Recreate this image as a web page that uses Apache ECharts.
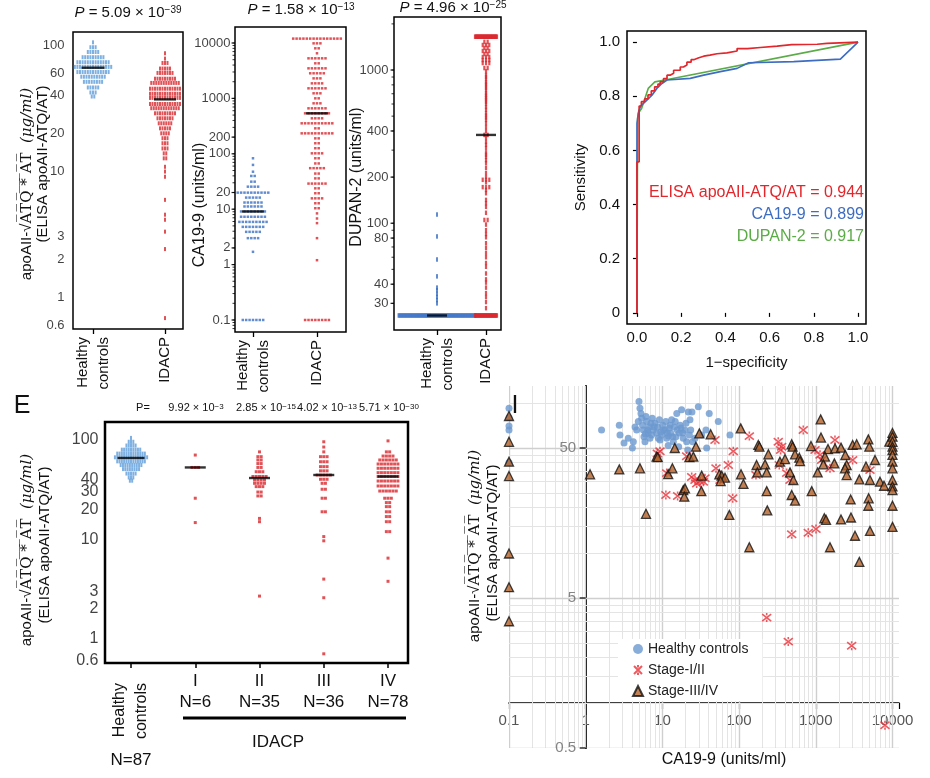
<!DOCTYPE html>
<html>
<head>
<meta charset="utf-8">
<title>apoAII-ATQ/AT, CA19-9 and DUPAN-2</title>
<script src="https://cdn.jsdelivr.net/npm/echarts@6.0.0/dist/echarts.min.js"></script>
<style>
html,body{margin:0;padding:0;background:#fff;}
#chart{width:930px;height:778px;}
</style>
</head>
<body>
<div id="chart"></div>
<script>
// ================= DATA =================
const abCategories = ['Healthy\ncontrols', 'IDACP'];
const stageCategories = ['Healthy\ncontrols', 'I', 'II', 'III', 'IV'];
const stageCounts = ['N=87', 'N=6', 'N=35', 'N=36', 'N=78'];
const topPValues = [['5.09', '\u221239'], ['1.58', '\u221213'], ['4.96', '\u221225']];
const stagePValues = [['9.92', '\u22123'], ['2.85', '\u221215'], ['4.02', '\u221213'], ['5.71', '\u221230']];

// beeswarm rows: [value, number of marks in the row]
const apoHealthyRows = [[105,1],[96,3],[88,5],[80,9],[73,13],[67,15],[61,13],[56,10],[51,8],[46,5],[42,3],[39,2]];
const apoIdacpRows = [[86,1],[78,1],[72,3],[65,5],[60,7],[54,9],[50,12],[45,13],[41,13],[38,13],[34,13],[31.5,12],[28.7,9],[26.2,7],[23.9,6],[21.8,5],[19.9,4],[18.2,3],[16.6,3],[15.1,3],[13.8,2],[12.6,2],[10.8,1],[9.9,1],[9.0,1],[5.9,1],[4.5,1],[4.1,1],[3.3,1],[2.4,1],[0.68,1]];
const apoMedians = [66, 37];
const apoTicks = [100, 60, 40, 20, 10, 3, 2, 1, 0.6];

const caHealthyRows = [[83,1],[63,1],[47.5,1],[39.8,2],[31.4,2],[25.5,4],[19.9,10],[16.2,5],[13.2,6],[11.2,6],[9.1,8],[7.3,8],[5.9,9],[4.8,7],[3.9,5],[3.0,4],[1.7,1],[0.1,7]];
const caIdacpRows = [[12000,15],[9860,3],[8020,2],[6520,1],[5290,6],[4300,2],[3490,6],[2840,5],[2300,3],[1870,4],[1520,6],[1236,3],[1003,2],[815,3],[662,6],[538,8],[437,4],[355,10],[288,2],[234,10],[190,2],[155,2],[126,2],[102,4],[83,2],[67,2],[55,5],[44,2],[36,2],[29,6],[23.8,2],[19.4,2],[15.7,4],[12.8,2],[10.4,2],[8.4,1],[6.8,1],[5.6,1],[3.0,1],[1.2,1],[0.1,8]];
const caMedians = [9.1, 538];
const caTicks = [10000, 1000, 200, 100, 20, 10, 2, 1, 0.1];

const duHealthyRows = [[114,1],[82,1],[58,1],[45,1],[38,1],[36.5,1],[34.6,1],[33,1],[31.5,1],[30,1],[25,77]];
const duIdacpRows = [[1650,30],[1524,2],[1456,3],[1393,2],[1331,3],[1272,2],[1216,3],[1162,3],[1111,3],[1030,2],[980,1],[928,1],[900,1],[870,1],[835,1],[810,1],[790,1],[764,1],[740,1],[708,1],[690,1],[670,1],[655,1],[637,1],[620,1],[600,1],[573,1],[550,1],[524,1],[505,1],[490,1],[472,1],[450,1],[425,1],[400,1],[377,2],[360,1],[339,1],[325,1],[310,1],[290,1],[280,1],[271,1],[258,1],[247,1],[230,1],[213,1],[200,1],[192,3],[185,1],[172,3],[165,1],[157,1],[142,1],[135,1],[128,1],[117,1],[105,2],[98,1],[90,1],[85,1],[81,1],[74,1],[69,1],[64,1],[60,1],[55,1],[52,1],[47,1],[43,1],[41,1],[38,1],[35,1],[33,1],[30.6,1],[27.9,1],[25,30]];
const duMedians = [25, 377];
const duTicks = [1000, 400, 200, 100, 80, 40, 30];

const stageIRows = [[70.6,1],[53,3],[26,1],[14.8,1]];
const stageIIRows = [[76,1],[68,2],[63,2],[58,2],[53,2],[48,3],[43,5],[39.6,4],[36.7,4],[34,3],[30,2],[27.4,2],[16.3,1],[15.1,1],[2.7,1]];
const stageIIIRows = [[96,1],[85,1],[76,1],[68,3],[60.5,3],[54,3],[49,3],[44.5,5],[40.3,3],[36.7,2],[32,2],[26,2],[19,2],[10.7,1],[9.7,1],[4.0,1],[2.6,1],[0.71,1]];
const stageIVRows = [[98,1],[76,2],[69,4],[63,6],[57.4,7],[52,7],[47,7],[43,7],[38.7,7],[34.5,7],[30.7,6],[26,3],[23.5,2],[21.4,2],[19,2],[17,2],[15.1,2],[12,2],[6.5,1],[3.8,1]];
const stageMedians = [66, 53, 41.5, 44.5, 43];
const stageTicks = [100, 40, 30, 20, 10, 3, 2, 1, 0.6];

// ROC curves [1-specificity, sensitivity]
const rocApo = [[0,0],[0,0.558],[0.01,0.558],[0.01,0.764],[0.02,0.764],[0.02,0.78],[0.035,0.79],[0.05,0.805],[0.065,0.82],[0.08,0.835],[0.095,0.845],[0.105,0.853],[0.12,0.865],[0.136,0.878],[0.15,0.885],[0.166,0.896],[0.196,0.908],[0.21,0.915],[0.226,0.926],[0.245,0.935],[0.257,0.942],[0.28,0.948],[0.302,0.952],[0.33,0.957],[0.362,0.96],[0.407,0.967],[0.453,0.976],[0.5,0.98],[0.558,0.985],[0.634,0.991],[0.7,0.992],[0.815,0.995],[0.86,1.0],[1.0,1.0]];
const rocCa = [[0,0],[0,0.70],[0.008,0.70],[0.008,0.745],[0.017,0.764],[0.026,0.767],[0.045,0.786],[0.068,0.804],[0.09,0.829],[0.113,0.847],[0.136,0.86],[0.241,0.866],[0.302,0.878],[0.377,0.891],[0.453,0.903],[0.505,0.924],[0.709,0.928],[0.92,0.937],[1.0,1.0]];
const rocDu = [[0,0],[0.003,0.72],[0.006,0.737],[0.021,0.755],[0.036,0.792],[0.051,0.829],[0.081,0.853],[0.127,0.86],[1.0,1.0]];
const aucLabels = ['ELISA apoAII-ATQ/AT = 0.944', 'CA19-9 = 0.899', 'DUPAN-2 = 0.917'];
const rocTicks = [0, 0.2, 0.4, 0.6, 0.8, 1.0];

// scatter I: [CA19-9, apoAII-ATQ/AT]
const scatterHealthy = [[0.1,92],[0.1,80],[0.1,70],[0.1,66],[0.1,40],
[1.61,66],[2.74,71],[2.80,61],[3.16,54],[3.59,58],[4.06,50],[4.18,55],[4.40,69],[4.62,66],[4.85,75],
[4.95,102],[5.10,92],[5.26,85],[5.37,79],[5.53,71],[5.64,66],[5.75,59.5],[5.93,55],[6.11,81],[6.23,75],
[6.42,66],[6.55,63],[6.75,69],[6.89,58],[7.10,73],[7.24,61],[7.38,79],[7.60,66],[7.83,69],[8.00,73],
[8.41,63],[8.67,69],[8.85,58],[9.12,77],[9.31,56.5],[9.79,61],[10.1,71],[10.3,66],[10.8,66],[11.1,75],
[11.4,58],[11.6,63],[11.9,52],[12.3,68],[12.6,71],[12.8,63],[13.2,77],[13.6,59.5],[13.9,55],[14.3,69],
[14.7,75],[15.0,59.5],[15.4,85],[15.6,66],[16.3,51],[16.6,63],[17.0,71],[17.5,68],[17.8,90],[18.4,63],
[18.7,58],[19.7,66],[20.3,73],[20.7,55],[21.4,48.5],[21.8,87],[22.5,61],[22.9,77],[23.4,66],[24.3,87],
[24.8,55],[26.6,58],[29.4,94],[32.5,61],[37.0,66],[37.8,50],[40.8,85],[53.5,75],[76,61],[6.0,62],[9.5,64],[12.0,60]];
const scatterStage12 = [[8.6,46],[9.3,47.5],[11.4,34],[11.1,24.3],[15.8,23.9],[20.7,44],[24.1,32],[26.6,30.6],[28,29],[30.9,30],
[34.2,29.8],[35.9,31.4],[48.5,56.5],[50,36.6],[56.4,30.6],[72.4,38.5],[82.6,23.1],[84,47.5],[136,60],[166,33],
[229,3.7],[324,55],[334,38.5],[348,48.5],[359,51],[417,34],[461,30.6],[485,13.3],[438,2.56],[687,66],
[798,13.6],[1006,14.4],[977,48.5],[1135,45],[1193,41.6],[1532,36.6],[1778,56.5],[3024,41.6],[2935,2.4],[5090,35.6],[7980,0.71]];
const scatterStage34 = [[1.14,33.4],[2.74,36],[5.1,36.6],[6.11,18.2],[8.4,43.8],[8.7,43.4],[11.9,33.5],[13.5,36.6],[14.5,50],[18.7,26.2],
[19.7,26.9],[19.3,23.7],[22.5,43.4],[0.1,81.7],[0.1,55],[0.1,40.5],[0.1,32.5],[0.1,9.9],[0.1,5.9],[0.1,3.5],
[30.3,62.6],[27.4,51],[42.6,61.7],[25.3,43.8],[32.5,32.7],[32.2,25.8],[55.3,33.4],[59.3,32.7],[65.5,31.7],[57.5,30.1],
[74.6,17.9],[105,67.6],[106,33.4],[114,28.8],[136,10.9],[178,52.4],[184,51],[241,45.4],[169,38.5],[173,34.4],
[218,38.9],[229,34.4],[229,25.8],[233,19.2],[341,40.5],[397,42.2],[485,52.9],[499,51],[536,45.4],[461,34.4],
[485,24.3],[510,30.6],[536,22.3],[610,43.1],[622,40.9],[866,51.5],[884,25.8],[1058,34.4],[1157,77.6],[1169,58.7],
[1292,17],[1359,16.6],[1443,49.2],[1318,43.8],[1254,38.9],[1745,39.5],[1780,49.7],[2131,50.3],[1532,10.9],[2131,16.7],
[2427,44.9],[2527,38.5],[2403,36.6],[2527,33],[2849,22.7],[2877,17.2],[3025,52.4],[3411,52.9],[3245,13],[3695,30.9],
[3695,8.7],[4513,37.6],[4841,57.1],[4988,51],[5089,30.6],[4890,23.1],[4841,20.6],[5089,14],[5916,41.6],[6872,29.8],
[7752,28],[9096,55.1],
[10000,63],[10000,59.5],[10000,55],[10000,51],[10000,48.5],[10000,45],[10000,40.5],[10000,36.6],[10000,30.6],[10000,27.7],[10000,26.2],[10000,20.6],[10000,14.9]];
const scatterYTicks = [0.5, 5, 50];

// ================= LAYOUT =================
const FONT = 'Liberation Sans';
const BLUE_L = '#5e9cd9', BLUE_D = '#3a6fc4', RED = '#d9272d';
const ROC_RED = '#e2262b', ROC_BLUE = '#3d6dc2', ROC_GREEN = '#5bab47';
const A = {left:73, top:32, width:110, height:297, xmin:-0.278, xmax:1.25, ymin:0.557, ymax:126.8, border:1.5};
const B = {left:235, top:27, width:111, height:305, xmin:-0.281, xmax:1.453, ymin:0.0607, ymax:19450, border:1.5};
const C = {left:394, top:17, width:107, height:313, xmin:-0.878, xmax:1.306, ymin:20.1, ymax:2218, border:1.5};
const D = {left:627, top:31, width:239, height:293, xmin:-0.045, xmax:1.036, ymin:-0.041, ymax:1.041, border:1.5};
const E = {left:105, top:422, width:303, height:241, xmin:-0.405, xmax:4.311, ymin:0.574, ymax:151.7, border:2.5};
const I = {left:509, top:386, width:390, height:362, xmin:0.1, xmax:12160, ymin:0.5, ymax:129.5, border:0};

function swarm(rows, xc, spacing, maxW) {
  const out = [];
  rows.forEach(function (r) {
    const n = r[1];
    const sp = n > 1 ? Math.min(spacing, maxW / (n - 1)) : 0;
    for (let i = 0; i < n; i++) {
      out.push({ value: [xc, r[0]], symbolOffset: [(i - (n - 1) / 2) * sp, 0] });
    }
  });
  return out;
}
function swarmSeries(xi, yi, rows, xc, o) {
  return { type: 'scatter', xAxisIndex: xi, yAxisIndex: yi, symbol: 'rect', symbolSize: o.size,
    itemStyle: { color: o.color }, silent: true, clip: false, z: 3,
    data: swarm(rows, xc, o.spacing, o.maxW) };
}
function medianSeries(xi, yi, pts) {
  return { type: 'scatter', xAxisIndex: xi, yAxisIndex: yi, symbol: 'rect', silent: true, clip: false, z: 6,
    itemStyle: { color: '#000' },
    data: pts.map(function (p) { return { value: [p[0], p[1]], symbolSize: [p[2], 2.4] }; }) };
}
function labelSeries(xi, yi, x, vals, dist, fs, color) {
  return { type: 'scatter', xAxisIndex: xi, yAxisIndex: yi, symbolSize: 1, silent: true, clip: false,
    itemStyle: { color: 'rgba(0,0,0,0)' },
    label: { show: true, position: 'left', distance: dist, fontSize: fs, fontFamily: FONT, color: color || '#111',
      formatter: function (p) { return String(p.value[1]); } },
    data: vals.map(function (v) { return [x, v]; }) };
}
function tickSeries(xi, yi, x, vals, len, w) {
  return { type: 'scatter', xAxisIndex: xi, yAxisIndex: yi, symbol: 'rect', symbolSize: [len, w || 1],
    symbolOffset: [-len / 2, 0], silent: true, clip: false, itemStyle: { color: '#000' },
    data: vals.map(function (v) { return [x, v]; }) };
}
function logMinor(lo, hi) {
  const out = [];
  for (let k = -2; k <= 5; k++) for (let m = 1; m <= 9; m++) {
    const v = Number((m * Math.pow(10, k)).toPrecision(3));
    if (v >= lo && v <= hi) out.push(v);
  }
  return out;
}
function gridOf(g) {
  return { left: g.left, top: g.top, width: g.width, height: g.height, show: g.border > 0,
    borderColor: '#000', borderWidth: g.border, backgroundColor: 'transparent', outerBoundsMode: 'none' };
}
function logY(idx, g) {
  return { type: 'log', logBase: 10, gridIndex: idx, min: g.ymin, max: g.ymax,
    axisLine: { show: false }, axisTick: { show: false }, axisLabel: { show: false }, splitLine: { show: false } };
}
function catX(idx, g, labelVals, fmt, rot, margin) {
  return { type: 'value', gridIndex: idx, position: 'bottom', min: g.xmin, max: g.xmax,
    splitLine: { show: false }, axisLine: { show: false },
    axisTick: { show: true, customValues: [0, 1], length: 5, lineStyle: { color: '#000', width: 1.3 } },
    axisLabel: { show: true, customValues: labelVals, rotate: rot, margin: margin, fontSize: 15, fontFamily: FONT,
      color: '#111', lineHeight: 21, formatter: fmt } };
}

// ================= AXES =================
const xAxes = [
  catX(0, A, [0, 1], function (v) { return abCategories[Math.round(v)]; }, 90, 8),
  catX(1, B, [0, 1], function (v) { return abCategories[Math.round(v)]; }, 90, 8),
  catX(2, C, [0, 1], function (v) { return abCategories[Math.round(v)]; }, 90, 8),
  { type: 'value', gridIndex: 3, position: 'bottom', min: D.xmin, max: D.xmax, splitLine: { show: false }, axisLine: { show: false },
    axisTick: { show: true, customValues: rocTicks, length: 4, lineStyle: { color: '#000', width: 1.2 } },
    axisLabel: { customValues: rocTicks, margin: 6, fontSize: 15, fontFamily: FONT, color: '#111',
      formatter: function (v) { return v.toFixed(1); } },
    name: '1\u2212specificity', nameLocation: 'middle', nameGap: 31, nameTextStyle: { fontSize: 15, fontFamily: FONT, color: '#111' } },
  { type: 'value', gridIndex: 4, position: 'bottom', min: E.xmin, max: E.xmax, splitLine: { show: false }, axisLine: { show: false },
    axisTick: { show: true, customValues: [0, 1, 2, 3, 4], length: 5, lineStyle: { color: '#000', width: 1.5 } },
    axisLabel: { customValues: [1, 2, 3, 4], margin: 8, fontSize: 17, lineHeight: 21, fontFamily: FONT, color: '#111',
      formatter: function (v) { const i = Math.round(v); return stageCategories[i] + '\n' + stageCounts[i]; } } },
  { type: 'value', gridIndex: 4, position: 'bottom', min: E.xmin, max: E.xmax, splitLine: { show: false }, axisLine: { show: false },
    axisTick: { show: false },
    axisLabel: { customValues: [0], rotate: 90, margin: 20, fontSize: 16, lineHeight: 22, fontFamily: FONT, color: '#111',
      formatter: function (v) { return stageCategories[0]; } } },
  { type: 'log', logBase: 10, gridIndex: 5, position: 'bottom', offset: -45, min: I.xmin, max: I.xmax,
    axisLine: { show: true, onZero: false, lineStyle: { color: '#000', width: 1.6 } },
    axisTick: { show: true, length: 6, lineStyle: { color: '#000', width: 1.2 } },
    axisLabel: { margin: 10, fontSize: 15, fontFamily: FONT, color: '#555',
      formatter: function (v) { const l = Math.log10(v); return Math.abs(l - Math.round(l)) < 1e-6 ? String(Number(v.toPrecision(6))) : ''; } },
    splitLine: { show: false } }
];
const yAxes = [
  logY(0, A), logY(1, B), logY(2, C),
  { type: 'value', gridIndex: 3, min: D.ymin, max: D.ymax, splitLine: { show: false }, axisLine: { show: false },
    axisTick: { show: true, customValues: rocTicks, length: 4, lineStyle: { color: '#000', width: 1.2 } },
    axisLabel: { customValues: rocTicks, margin: 7, fontSize: 15, fontFamily: FONT, color: '#111',
      formatter: function (v) { return v === 0 ? '0' : v.toFixed(1); } },
    name: 'Sensitivity', nameLocation: 'middle', nameRotate: 90, nameGap: 39, nameTextStyle: { fontSize: 15, fontFamily: FONT, color: '#111' } },
  logY(4, E),
  { type: 'log', logBase: 10, gridIndex: 5, position: 'left', offset: -77, min: I.ymin, max: I.ymax,
    axisLine: { show: true, onZero: false, lineStyle: { color: '#000', width: 2 } },
    axisTick: { show: false }, axisLabel: { show: false }, splitLine: { show: false } }
];

// ================= SERIES =================
const series = [];
// Panel A
series.push(swarmSeries(0, 0, apoHealthyRows, 0, { color: BLUE_L, size: [2, 4], spacing: 2.6, maxW: 80 }));
series.push(swarmSeries(0, 0, apoIdacpRows, 1, { color: RED, size: [2, 4], spacing: 2.5, maxW: 80 }));
series.push(medianSeries(0, 0, [[0, apoMedians[0], 23], [1, apoMedians[1], 22]]));
series.push(labelSeries(0, 0, A.xmin, apoTicks, 8, 13));
// Panel B
series.push(swarmSeries(1, 1, caHealthyRows, 0, { color: BLUE_D, size: [2.5, 2.5], spacing: 3.4, maxW: 80 }));
series.push(swarmSeries(1, 1, caIdacpRows, 1, { color: RED, size: [2.5, 2.5], spacing: 3.4, maxW: 80 }));
series.push(medianSeries(1, 1, [[0, caMedians[0], 22], [1, caMedians[1], 22]]));
series.push(tickSeries(1, 1, B.xmin, logMinor(B.ymin, B.ymax), 2.5));
series.push(tickSeries(1, 1, B.xmin, caTicks, 3.5, 1.2));
series.push(labelSeries(1, 1, B.xmin, caTicks, 4, 13));
// Panel C
series.push(swarmSeries(2, 2, duHealthyRows, 0, { color: BLUE_D, size: [2, 4.5], spacing: 3.3, maxW: 77 }));
series.push(swarmSeries(2, 2, duIdacpRows, 1, { color: RED, size: [2.2, 4.5], spacing: 3.3, maxW: 22 }));
series.push(medianSeries(2, 2, [[0, duMedians[0], 20], [1, duMedians[1], 20]]));
series.push(tickSeries(2, 2, C.xmin, logMinor(C.ymin, C.ymax), 2.5));
series.push(tickSeries(2, 2, C.xmin, duTicks, 3.5, 1.2));
series.push(labelSeries(2, 2, C.xmin, duTicks, 5, 13));
// Panel D (ROC)
series.push({ type: 'line', xAxisIndex: 3, yAxisIndex: 3, data: rocDu, showSymbol: false, symbol: 'none', silent: true,
  lineStyle: { color: ROC_GREEN, width: 1.6 }, z: 3 });
series.push({ type: 'line', xAxisIndex: 3, yAxisIndex: 3, data: rocCa, showSymbol: false, symbol: 'none', silent: true,
  lineStyle: { color: ROC_BLUE, width: 1.6 }, z: 4 });
series.push({ type: 'line', xAxisIndex: 3, yAxisIndex: 3, data: rocApo, showSymbol: false, symbol: 'none', silent: true,
  step: 'end', lineStyle: { color: ROC_RED, width: 1.7 }, z: 5 });
// Panel E
series.push(swarmSeries(4, 4, apoHealthyRows, 0, { color: BLUE_L, size: [2, 4], spacing: 2.3, maxW: 80 }));
[stageIRows, stageIIRows, stageIIIRows, stageIVRows].forEach(function (rows, i) {
  series.push(swarmSeries(4, 4, rows, i + 1, { color: RED, size: [3, 3], spacing: 3.3, maxW: 60 }));
});
series.push(medianSeries(4, 4, stageMedians.map(function (m, i) { return [i, m, i === 0 ? 27 : 21]; })));
series.push(labelSeries(4, 4, E.xmin, stageTicks, 6, 16));
// Panel I grid lines
const vLines = logMinor(I.xmin, I.xmax);
const hLines = [];
[0.5, 5, 50].forEach(function (b) { for (let m = 1; m <= 9; m++) { const v = Number((b * m).toPrecision(3)); if (v <= I.ymax) hLines.push(v); } });
series.push({ type: 'lines', coordinateSystem: 'cartesian2d', xAxisIndex: 6, yAxisIndex: 5, silent: true, z: 1,
  lineStyle: { opacity: 1 },
  data: vLines.map(function (v) {
    const major = Math.abs(Math.log10(v) - Math.round(Math.log10(v))) < 1e-6;
    return { coords: [[v, I.ymin], [v, I.ymax]], lineStyle: { color: major ? '#cfcfcf' : '#e4e4e4', width: major ? 1.4 : 1, opacity: 1 } };
  }).concat(hLines.map(function (v) {
    const major = (v === 0.5 || v === 5 || v === 50);
    return { coords: [[I.xmin, v], [I.xmax, v]], lineStyle: { color: major ? '#cfcfcf' : '#e4e4e4', width: major ? 1.4 : 1, opacity: 1 } };
  })) });
series.push({ type: 'scatter', name: 'Healthy controls', xAxisIndex: 6, yAxisIndex: 5, data: scatterHealthy, symbol: 'circle',
  symbolSize: 7, itemStyle: { color: '#6b98d0' }, silent: true, clip: false, z: 3 });
series.push({ type: 'scatter', name: 'Stage-I/II', xAxisIndex: 6, yAxisIndex: 5, data: scatterStage12,
  symbol: 'path://M1,1L9,9M9,1L1,9M5,0L5,2.5M5,7.5L5,10', symbolSize: 9,
  itemStyle: { color: 'rgba(0,0,0,0)', borderColor: '#e8323a', borderWidth: 1.6 }, silent: true, clip: false, z: 4 });
series.push({ type: 'scatter', name: 'Stage-III/IV', xAxisIndex: 6, yAxisIndex: 5, data: scatterStage34, symbol: 'triangle',
  symbolSize: 9, itemStyle: { color: '#b3612b', borderColor: '#111', borderWidth: 1.3 }, silent: true, clip: false, z: 5 });
series.push(tickSeries(6, 5, 1, scatterYTicks, 6, 1.5));
series.push(labelSeries(6, 5, 1, scatterYTicks, 9, 15, '#666'));

// ================= TEXT =================
const rtTitle = { i: { fontStyle: 'italic', fontSize: 15 }, s: { fontSize: 10, verticalAlign: 'top' } };
const rtAxis = { a: { fontSize: 15, fontFamily: FONT }, b: { fontSize: 15, fontFamily: 'DejaVu Serif' },
  c: { fontSize: 15, fontFamily: 'DejaVu Serif', fontStyle: 'italic' } };
const apoTitle = '{a|apoAII-\u221a}{b|A\u0305T\u0305Q\u0305 \u0305*\u0305 \u0305A\u0305T\u0305}{c|  (\u03bcg/ml)}';
const apoTitle2 = '(ELISA apoAII-ATQ/AT)';
const ROT = Math.PI / 2;
function text(x, y, str, o) {
  o = o || {};
  return { type: 'text', x: x, y: y, rotation: o.rot || 0, z: 50, silent: true,
    style: { text: str, fontSize: o.fs || 15, fontFamily: o.ff || FONT, fill: o.color || '#111',
      textAlign: o.align || 'center', textVerticalAlign: 'middle', rich: o.rich } };
}
const titleText = function (p) { return '{i|P} = ' + p[0] + ' \u00d7 10{s|' + p[1] + '}'; };
const graphics = [
  text(128, 13, titleText(topPValues[0]), { rich: rtTitle }),
  text(301, 10, titleText(topPValues[1]), { rich: rtTitle }),
  text(453, 8, titleText(topPValues[2]), { rich: rtTitle }),
  text(27, 184, apoTitle, { rot: ROT, rich: rtAxis }),
  text(43, 164, apoTitle2, { rot: ROT }),
  text(200, 205, 'CA19-9 (units/ml)', { rot: ROT, fs: 16 }),
  text(357, 177, 'DUPAN-2 (units/ml)', { rot: ROT, fs: 16 }),
  text(864, 193, aucLabels[0], { align: 'right', fs: 16, color: ROC_RED }),
  text(864, 215, aucLabels[1], { align: 'right', fs: 16, color: ROC_BLUE }),
  text(864, 237, aucLabels[2], { align: 'right', fs: 16, color: ROC_GREEN }),
  text(22, 406, 'E', { fs: 25 }),
  text(143, 408, 'P=', { fs: 11 }),
  text(27, 550, apoTitle, { rot: ROT, rich: rtAxis }),
  text(45, 545, apoTitle2, { rot: ROT }),
  text(131, 760, stageCounts[0], { fs: 17 }),
  { type: 'line', silent: true, z: 50, shape: { x1: 183, y1: 718, x2: 406, y2: 718 }, style: { stroke: '#000', lineWidth: 3 } },
  text(278, 742, 'IDACP', { fs: 17 }),
  text(515, 406, 'I', { fs: 25 }),
  text(475, 546, apoTitle, { rot: ROT, rich: rtAxis }),
  text(493, 543, apoTitle2, { rot: ROT }),
  text(724, 760, 'CA19-9 (units/ml)', { fs: 16 })
];
const pX = [196, 266, 327, 389];
stagePValues.forEach(function (p, i) {
  graphics.push(text(pX[i], 408, p[0] + ' \u00d7 10{s|' + p[1] + '}', { fs: 11, rich: { s: { fontSize: 8, verticalAlign: 'top' } } }));
});

// ================= CHART =================
const chart = echarts.init(document.getElementById('chart'), null, { renderer: 'canvas' });
chart.setOption({
  animation: false,
  backgroundColor: '#fff',
  textStyle: { fontFamily: FONT },
  grid: [A, B, C, D, E, I].map(gridOf),
  xAxis: xAxes,
  yAxis: yAxes,
  legend: { data: ['Healthy controls', 'Stage-I/II', 'Stage-III/IV'], orient: 'vertical', left: 618, top: 639,
    itemWidth: 10, itemHeight: 10, itemGap: 7, padding: [3, 14, 3, 14], backgroundColor: '#fff', selectedMode: false,
    textStyle: { fontSize: 14, fontFamily: FONT, color: '#222' }, z: 20 },
  series: series,
  graphic: graphics
});
</script>
</body>
</html>
